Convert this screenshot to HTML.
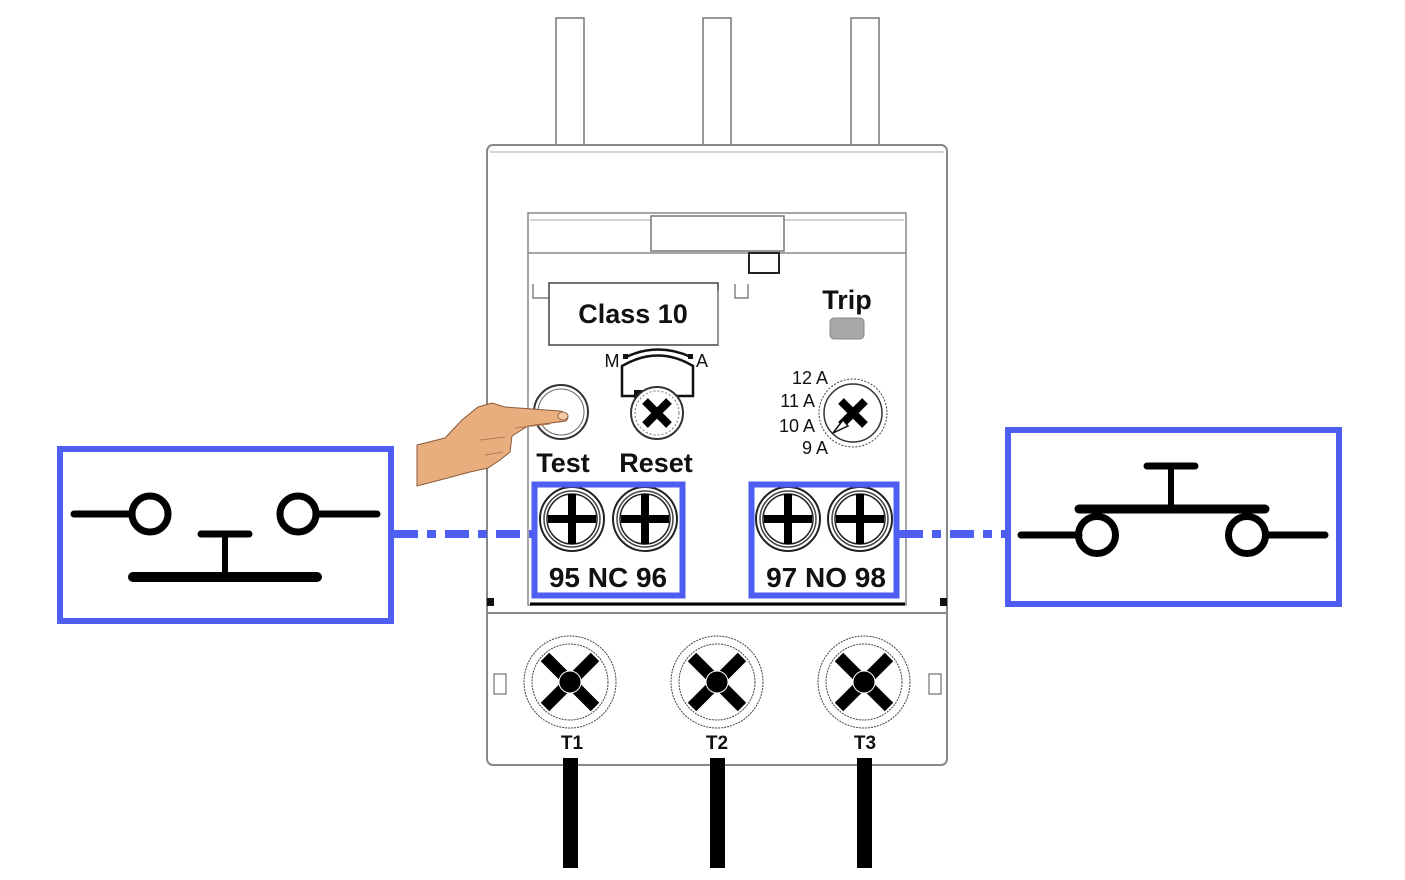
<!DOCTYPE html>
<html><head><meta charset="utf-8"><style>html,body{margin:0;padding:0;background:#fff}svg{display:block}</style></head>
<body>
<svg width="1405" height="880" viewBox="0 0 1405 880" xmlns="http://www.w3.org/2000/svg" font-family="Liberation Sans, sans-serif">
<!-- top rods -->
<g fill="#fff" stroke="#777" stroke-width="1.5">
<rect x="556" y="18" width="28" height="127"/>
<rect x="703" y="18" width="28" height="127"/>
<rect x="851" y="18" width="28" height="127"/>
</g>
<!-- body -->
<rect x="487" y="145" width="460" height="620" rx="6" fill="#fff" stroke="#888" stroke-width="2"/>
<line x1="490" y1="152" x2="944" y2="152" stroke="#aaa" stroke-width="1"/>
<!-- inner panel -->
<rect x="528" y="213" width="378" height="392" fill="#fff" stroke="#888" stroke-width="1.5"/>
<line x1="528" y1="253" x2="906" y2="253" stroke="#888" stroke-width="1.5"/>
<line x1="530" y1="220" x2="904" y2="220" stroke="#aaa" stroke-width="1"/>
<rect x="651" y="216" width="133" height="35" fill="#fff" stroke="#777" stroke-width="1.5"/>
<rect x="749" y="253" width="30" height="20" fill="#fff" stroke="#222" stroke-width="2"/>
<!-- class 10 -->
<path d="M533 284 V298 H549 M735 284 V298 H748 V284" fill="none" stroke="#666" stroke-width="1.2"/>
<rect x="549" y="283" width="169" height="62" fill="#fff" stroke="#444" stroke-width="1.5"/>
<line x1="718" y1="290" x2="718" y2="345" stroke="#888"/>
<text x="633" y="323" font-size="27" font-weight="bold" text-anchor="middle" fill="#111">Class 10</text>
<text x="847" y="309" font-size="27" font-weight="bold" text-anchor="middle" fill="#111">Trip</text>
<rect x="830" y="318" width="34" height="21" rx="4" fill="#a8a8a8" stroke="#888"/>
<!-- M A dial -->
<text x="612" y="367" font-size="18" text-anchor="middle" fill="#111">M</text>
<text x="702" y="367" font-size="18" text-anchor="middle" fill="#111">A</text>
<path d="M626 357 Q658 342 691 357" fill="none" stroke="#111" stroke-width="2.5"/>
<rect x="623" y="354" width="5" height="5" fill="#111"/><rect x="688" y="354" width="5" height="5" fill="#111"/>
<path d="M622 396 V366 Q658 345 693 366 V396 Z" fill="#fff" stroke="#111" stroke-width="2.5"/>
<!-- Test button -->
<circle cx="561" cy="412" r="27" fill="#fff" stroke="#333" stroke-width="2"/>
<circle cx="561" cy="412" r="23" fill="#fff" stroke="#666" stroke-width="1"/>
<!-- Reset -->
<rect x="634" y="390" width="12" height="8" fill="#111"/>
<circle cx="657" cy="413" r="26" fill="#fff" stroke="#333" stroke-width="2"/>
<circle cx="657" cy="413" r="22" fill="#fff" stroke="#777" stroke-width="1" stroke-dasharray="2 2"/>
<path d="M645 401 L669 425 M669 401 L645 425" stroke="#000" stroke-width="8"/>
<!-- current dial -->
<text x="828" y="384" font-size="18" text-anchor="end" fill="#111">12 A</text>
<text x="815" y="407" font-size="18" text-anchor="end" fill="#111">11 A</text>
<text x="815" y="432" font-size="18" text-anchor="end" fill="#111">10 A</text>
<text x="828" y="454" font-size="18" text-anchor="end" fill="#111">9 A</text>
<circle cx="853" cy="413" r="34" fill="#fff" stroke="#444" stroke-width="1" stroke-dasharray="2 1.5"/>
<circle cx="853" cy="413" r="29" fill="#fff" stroke="#333" stroke-width="1.5"/>
<path d="M841 401 L865 425 M865 401 L841 425" stroke="#000" stroke-width="8"/>
<path d="M833 433 L843 420 L848 426 Z" fill="#fff" stroke="#111" stroke-width="1.5"/>
<!-- Test / Reset text -->
<text x="563" y="472" font-size="27" font-weight="bold" text-anchor="middle" fill="#111">Test</text>
<text x="656" y="472" font-size="27" font-weight="bold" text-anchor="middle" fill="#111">Reset</text>
<!-- hand -->
<path d="M417 445 L445 438 L462 420 L478 407 L492 403 L505 407 L560 411 Q572 414 566 421 L528 426 L512 436 L510 452 L500 460 L488 468 L470 472 L440 480 L417 486 Z" fill="#e8ae7e" stroke="#8a5a3a" stroke-width="1"/>
<path d="M480 440 L505 437 M485 455 L503 452 M515 428 L550 424" stroke="#b47a50" stroke-width="1" fill="none"/>
<ellipse cx="563" cy="416" rx="5" ry="4" fill="#f3c9a6" stroke="#8a5a3a" stroke-width="0.8"/>
<!-- aux screws -->
<g>
<g transform="translate(572,519)"><circle r="32" fill="#fff" stroke="#222" stroke-width="2"/><circle r="28" fill="none" stroke="#444" stroke-width="1.5"/><circle r="25" fill="none" stroke="#222" stroke-width="1.5"/><path d="M0 -25 V25 M-24 0 H24" stroke="#000" stroke-width="8"/></g>
<g transform="translate(645,519)"><circle r="32" fill="#fff" stroke="#222" stroke-width="2"/><circle r="28" fill="none" stroke="#444" stroke-width="1.5"/><circle r="25" fill="none" stroke="#222" stroke-width="1.5"/><path d="M0 -25 V25 M-24 0 H24" stroke="#000" stroke-width="8"/></g>
<g transform="translate(788,519)"><circle r="32" fill="#fff" stroke="#222" stroke-width="2"/><circle r="28" fill="none" stroke="#444" stroke-width="1.5"/><circle r="25" fill="none" stroke="#222" stroke-width="1.5"/><path d="M0 -25 V25 M-24 0 H24" stroke="#000" stroke-width="8"/></g>
<g transform="translate(860,519)"><circle r="32" fill="#fff" stroke="#222" stroke-width="2"/><circle r="28" fill="none" stroke="#444" stroke-width="1.5"/><circle r="25" fill="none" stroke="#222" stroke-width="1.5"/><path d="M0 -25 V25 M-24 0 H24" stroke="#000" stroke-width="8"/></g>
</g>
<text x="608" y="587" font-size="28" font-weight="bold" text-anchor="middle" fill="#111">95 NC 96</text>
<text x="826" y="587" font-size="28" font-weight="bold" text-anchor="middle" fill="#111">97 NO 98</text>
<rect x="534.5" y="484.5" width="148" height="111" fill="none" stroke="#4f5ef2" stroke-width="6"/>
<rect x="751.5" y="484.5" width="145" height="111" fill="none" stroke="#4f5ef2" stroke-width="6"/>
<line x1="530" y1="604" x2="905" y2="604" stroke="#000" stroke-width="3"/>
<line x1="487" y1="613" x2="947" y2="613" stroke="#888" stroke-width="2"/>
<rect x="487" y="598" width="7" height="8" fill="#111"/><rect x="940" y="598" width="7" height="8" fill="#111"/>
<!-- main terminals -->
<g id="t">
<g transform="translate(570,682)"><circle r="46" fill="#fff" stroke="#444" stroke-width="1" stroke-dasharray="2 1"/><circle r="38" fill="none" stroke="#444" stroke-width="1" stroke-dasharray="2 1"/><path d="M-25 -25 L25 25 M25 -25 L-25 25" stroke="#000" stroke-width="12"/><circle r="11" fill="#000" stroke="#fff" stroke-width="1"/></g>
<g transform="translate(717,682)"><circle r="46" fill="#fff" stroke="#444" stroke-width="1" stroke-dasharray="2 1"/><circle r="38" fill="none" stroke="#444" stroke-width="1" stroke-dasharray="2 1"/><path d="M-25 -25 L25 25 M25 -25 L-25 25" stroke="#000" stroke-width="12"/><circle r="11" fill="#000" stroke="#fff" stroke-width="1"/></g>
<g transform="translate(864,682)"><circle r="46" fill="#fff" stroke="#444" stroke-width="1" stroke-dasharray="2 1"/><circle r="38" fill="none" stroke="#444" stroke-width="1" stroke-dasharray="2 1"/><path d="M-25 -25 L25 25 M25 -25 L-25 25" stroke="#000" stroke-width="12"/><circle r="11" fill="#000" stroke="#fff" stroke-width="1"/></g>
</g>
<rect x="494" y="674" width="12" height="20" fill="#fff" stroke="#555"/>
<rect x="929" y="674" width="12" height="20" fill="#fff" stroke="#555"/>
<text x="572" y="749" font-size="19" font-weight="bold" text-anchor="middle" fill="#111">T1</text>
<text x="717" y="749" font-size="19" font-weight="bold" text-anchor="middle" fill="#111">T2</text>
<text x="865" y="749" font-size="19" font-weight="bold" text-anchor="middle" fill="#111">T3</text>
<rect x="563" y="758" width="15" height="110" fill="#000"/>
<rect x="710" y="758" width="15" height="110" fill="#000"/>
<rect x="857" y="758" width="15" height="110" fill="#000"/>
<!-- dash-dot connectors -->
<line x1="394" y1="534" x2="533" y2="534" stroke="#4f5ef2" stroke-width="8" stroke-dasharray="24 9 9 9"/>
<line x1="899" y1="534" x2="1006" y2="534" stroke="#4f5ef2" stroke-width="8" stroke-dasharray="24 9 9 9"/>
<!-- left NC box -->
<rect x="60" y="449" width="331" height="172" fill="#fff" stroke="#4f5ef2" stroke-width="6"/>
<g stroke="#000" stroke-linecap="round" fill="none">
<line x1="74" y1="514" x2="132" y2="514" stroke-width="7"/>
<circle cx="150" cy="514" r="18" stroke-width="7"/>
<circle cx="298" cy="514" r="18" stroke-width="7"/>
<line x1="316" y1="514" x2="377" y2="514" stroke-width="7"/>
<line x1="201" y1="534" x2="249" y2="534" stroke-width="7"/>
<line x1="225" y1="534" x2="225" y2="577" stroke-width="6"/>
<line x1="133" y1="577" x2="317" y2="577" stroke-width="10"/>
</g>
<!-- right NO box -->
<rect x="1008" y="430" width="331" height="174" fill="#fff" stroke="#4f5ef2" stroke-width="6"/>
<g stroke="#000" stroke-linecap="round" fill="none">
<line x1="1021" y1="535" x2="1079" y2="535" stroke-width="7"/>
<circle cx="1097" cy="535" r="18.5" stroke-width="7"/>
<circle cx="1247" cy="535" r="18.5" stroke-width="7"/>
<line x1="1266" y1="535" x2="1325" y2="535" stroke-width="7"/>
<line x1="1079" y1="509" x2="1265" y2="509" stroke-width="9"/>
<line x1="1171" y1="466" x2="1171" y2="509" stroke-width="6"/>
<line x1="1147" y1="466" x2="1195" y2="466" stroke-width="7"/>
</g>
</svg>
</body></html>
